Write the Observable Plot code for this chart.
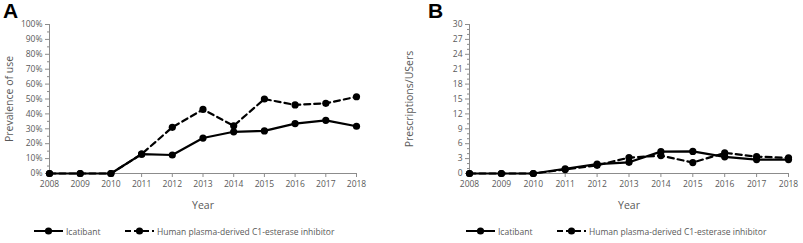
<!DOCTYPE html>
<html>
<head>
<meta charset="utf-8">
<script src="https://cdn.jsdelivr.net/npm/d3@7"></script>
<script src="https://cdn.jsdelivr.net/npm/@observablehq/plot@0.6"></script>
<style>
  html, body { margin: 0; padding: 0; background: #fff; }
  body { width: 803px; height: 243px; position: relative; overflow: hidden; font-family: "Open Sans", sans-serif; }
  .panel { position: absolute; top: 0; }
  .letter { position: absolute; top: 1px; line-height: 20px; font-family: "Liberation Sans", Arial, sans-serif; font-weight: bold; font-size: 21px; color: #000; }
  .legend { position: absolute; top: 224px; display: flex; align-items: center; font-size: 8.5px; color: #595959; }
  .legend .item { display: flex; align-items: center; position: absolute; white-space: nowrap; }
  .legend svg { margin-right: 3px; }
</style>
</head>
<body>
<div id="app"></div>
<script>
const years = [2008, 2009, 2010, 2011, 2012, 2013, 2014, 2015, 2016, 2017, 2018];
const seriesNames = ["Icatibant", "Human plasma-derived C1-esterase inhibitor"];
// Panel A: prevalence of use (%)
const prevIcatibant = [0, 0, 0, 13.0, 12.4, 23.8, 28.0, 28.6, 33.5, 35.7, 31.7];
const prevC1inh     = [0, 0, 0, 13.0, 31.0, 43.0, 32.0, 50.0, 46.0, 47.1, 51.5];
// Panel B: prescriptions per user
const rxIcatibant = [0, 0, 0, 0.95, 1.9, 2.25, 4.4, 4.45, 3.35, 2.8, 2.8];
const rxC1inh     = [0, 0, 0, 0.8, 1.65, 3.2, 3.6, 2.2, 4.15, 3.4, 3.15];
const yTicksA = d3.range(0, 101, 10);
const yMinorA = d3.range(5, 100, 10);
const yTicksB = d3.range(0, 31, 3);
const yMinorB = d3.range(0, 31, 1).filter(v => v % 3 !== 0);
const letters = ["A", "B"];
const yLabels = ["Prevalence of use", "Prescriptions/USers"];

const grey = "#595959";
const axisGrey = "#8c8c8c";

function table(a, b) {
  const rows = [];
  years.forEach((y, i) => rows.push({year: y, value: a[i], series: seriesNames[0]}));
  years.forEach((y, i) => rows.push({year: y, value: b[i], series: seriesNames[1]}));
  return rows;
}

function makeChart({data, yMax, ticks, minor, fmt, label, width, ml, mr}) {
  const solid = data.filter(d => d.series === seriesNames[0]);
  const dashed = data.filter(d => d.series === seriesNames[1]);
  return Plot.plot({
    width, height: 215,
    marginLeft: ml, marginRight: mr, marginTop: 24, marginBottom: 42,
    style: {fontFamily: "'Open Sans', sans-serif", fontSize: "8.5px", color: grey, background: "white"},
    x: {domain: [2008, 2018]},
    y: {domain: [0, yMax]},
    marks: [
      Plot.ruleY([0], {stroke: axisGrey, strokeWidth: 1}),
      Plot.ruleX([2008], {y1: 0, y2: yMax, stroke: axisGrey, strokeWidth: 1}),
      Plot.axisX({ticks: years, tickFormat: d => String(d), tickSize: 4, tickPadding: 3, stroke: axisGrey, color: grey, label: null}),
      Plot.axisX({ticks: [], label: "Year", labelAnchor: "center", labelArrow: "none", labelOffset: 35, color: grey, fontSize: 10.5}),
      Plot.axisY({ticks, tickFormat: fmt, tickSize: 4, tickPadding: 3, stroke: axisGrey, color: grey, label: null}),
      Plot.axisY({ticks: [], label, labelAnchor: "center", labelArrow: "none", labelOffset: ml - 5, color: grey, fontSize: 10.5}),
      Plot.axisY({ticks: minor, tickSize: 2, text: null, label: null, stroke: axisGrey}),
      Plot.line(dashed, {x: "year", y: "value", stroke: "black", strokeWidth: 2.2, strokeDasharray: "6,4"}),
      Plot.line(solid, {x: "year", y: "value", stroke: "black", strokeWidth: 2.2}),
      Plot.dot(dashed, {x: "year", y: "value", r: 3.6, fill: "black"}),
      Plot.dot(solid, {x: "year", y: "value", r: 3.6, fill: "black"})
    ]
  });
}

const app = document.getElementById("app");

const configs = [
  {left: 0, width: 400, ml: 49, mr: 44, data: table(prevIcatibant, prevC1inh), yMax: 100, ticks: yTicksA, minor: yMinorA, fmt: d => d + "%", label: yLabels[0], letterX: 3, leg1: 34, leg2: 125},
  {left: 400, width: 403, ml: 69, mr: 15, data: table(rxIcatibant, rxC1inh), yMax: 30, ticks: yTicksB, minor: yMinorB, fmt: d => String(d), label: yLabels[1], letterX: 28, leg1: 66, leg2: 157}
];

configs.forEach((c, i) => {
  const div = document.createElement("div");
  div.className = "panel";
  div.style.left = c.left + "px";
  div.style.width = c.width + "px";
  div.appendChild(makeChart(c));
  const letter = document.createElement("div");
  letter.className = "letter";
  letter.style.left = c.letterX + "px";
  letter.textContent = letters[i];
  div.appendChild(letter);

  const legend = document.createElement("div");
  legend.className = "legend";
  legend.style.left = "0px";
  [[seriesNames[0], c.leg1, null], [seriesNames[1], c.leg2, "6,3"]].forEach(([name, x, dash]) => {
    const item = document.createElement("div");
    item.className = "item";
    item.style.left = x + "px";
    item.style.top = "0px";
    const w = 29;
    item.innerHTML = `<svg width="${w}" height="14"><line x1="0" x2="${w}" y1="7" y2="7" stroke="black" stroke-width="2" ${dash ? `stroke-dasharray="${dash}"` : ""}/><circle cx="${w/2}" cy="7" r="3.6" fill="black"/></svg><span>${name}</span>`;
    legend.appendChild(item);
  });
  div.appendChild(legend);
  app.appendChild(div);
});
</script>
</body>
</html>
